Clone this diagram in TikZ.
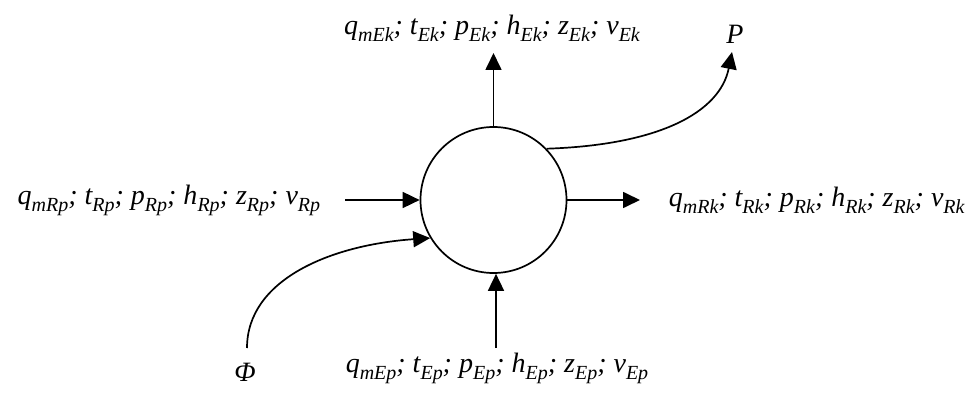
\documentclass[tikz,border=0pt]{standalone}
\usepackage{fontspec}
\setmainfont{Liberation Serif}
\usetikzlibrary{arrows.meta}
\newcommand{\vsub}[2]{#1\raisebox{-0.25em}{\fontsize{20}{20}\selectfont #2}}
\newcommand{\lbl}[1]{\vsub{q}{m#1}; \vsub{t}{#1}; \vsub{p}{#1}; \vsub{h}{#1}; \vsub{z}{#1}; \vsub{v}{#1}}
\begin{document}
\begin{tikzpicture}[x=1pt,y=-1pt, line width=1.7pt,
  arr/.style={-{Triangle[length=17pt,width=16pt]}},
  lab/.style={font=\fontsize{28}{30}\selectfont\itshape, inner sep=0pt}]
\useasboundingbox (0,0) rectangle (978,396);
\node[circle, draw, minimum size=146pt, inner sep=0pt] (c) at (493.5,200) {};
\node[lab] (E) at (492,28) {\lbl{Ek}};
\node[lab] (Ep) at (497,368) {\lbl{Ep}};
\node[lab, anchor=east] (Rp) at (321,200) {\lbl{Rp}};
\node[lab, anchor=west] (Rk) at (668,200) {\lbl{Rk}};
\node[lab] (P) at (735,34) {P};
\node[lab] (F) at (245,372) {\textit{Φ}};
\coordinate (tE) at (493.5,53);
\coordinate (bE) at (496,348);
\coordinate (lS) at (345,200);
\coordinate (rT) at (640,200);
\coordinate (Pt) at (732,52);
\coordinate (Fs) at (247,348);
\draw[arr] (c.north) -- (tE);
\draw[arr] (bE) -- (bE |- c.south);
\draw[arr] (lS) -- (c.west);
\draw[arr] (c.east) -- (rT);
\draw[arr] (c.44) .. controls (660,145) and (720,112) .. (Pt);
\draw[arr] (Fs) .. controls (247,280) and (330,245) .. (c.211);
\end{tikzpicture}
\end{document}
